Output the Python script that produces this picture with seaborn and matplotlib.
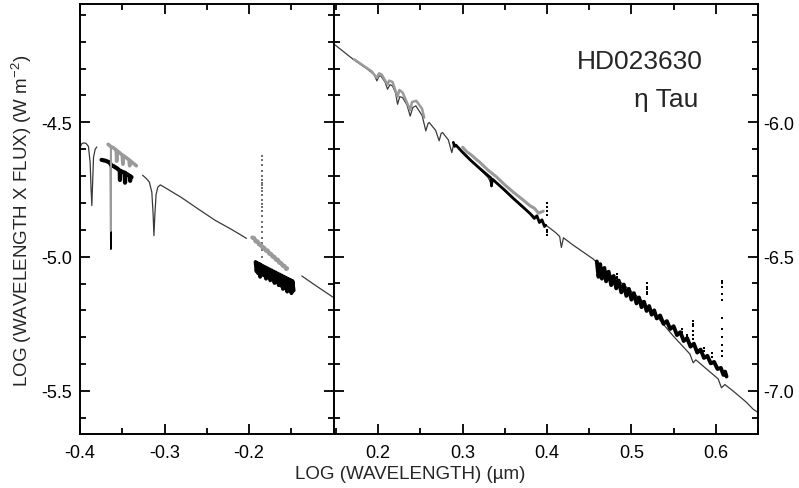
import numpy as np
import pandas as pd
import matplotlib
matplotlib.use("Agg")
import matplotlib.pyplot as plt
import seaborn as sns
from matplotlib.ticker import FixedLocator, MultipleLocator, FormatStrFormatter

# ------------------------------------------------------------------ data
# ---- left panel (optical), y on left axis
# model spectrum, three separate pieces
model_l1_x = [-0.400, -0.398, -0.396, -0.393, -0.390, -0.388, -0.387, -0.386, -0.385, -0.384, -0.382, -0.380]
model_l1_y = [-4.595, -4.580, -4.577, -4.578, -4.590, -4.650, -4.740, -4.810, -4.720, -4.630, -4.600, -4.592]
model_l2_x = [-0.326, -0.322, -0.318, -0.315, -0.3135, -0.3125, -0.3115, -0.310, -0.308, -0.305,
              -0.300, -0.280, -0.260, -0.240, -0.220, -0.203]
model_l2_y = [-4.697, -4.708, -4.722, -4.760, -4.840, -4.922, -4.850, -4.770, -4.742, -4.733,
              -4.742, -4.780, -4.823, -4.865, -4.900, -4.932]
model_l3_x = [-0.1375, -0.120, -0.101]
model_l3_y = [-5.072, -5.110, -5.150]

# grey observed spectrum (blue part)
grey_l1_x = [-0.3667, -0.3645, -0.3630, -0.3610, -0.3585, -0.3570, -0.3566, -0.3562,
             -0.3530, -0.3500, -0.3492, -0.3488, -0.3460, -0.3420, -0.3412, -0.3408, -0.3380, -0.3333]
grey_l1_y = [-4.582, -4.588, -4.592, -4.594, -4.600, -4.604, -4.645, -4.606,
             -4.614, -4.622, -4.656, -4.624, -4.630, -4.640, -4.662, -4.643, -4.650, -4.662]
grey_hg_x = [-0.3637, -0.3636, -0.3634]
grey_hg_y = [-4.590, -4.905, -4.600]
# black observed spectrum (blue part)
black_l1_x = [-0.3745, -0.3700, -0.3660, -0.3645, -0.3630, -0.3600, -0.3560, -0.3530,
              -0.3527, -0.3523, -0.3500, -0.3470, -0.3467, -0.3463, -0.3440, -0.3410, -0.3407, -0.3403, -0.3390]
black_l1_y = [-4.640, -4.643, -4.648, -4.652, -4.660, -4.664, -4.672, -4.680,
              -4.715, -4.682, -4.684, -4.688, -4.725, -4.690, -4.694, -4.700, -4.718, -4.702, -4.704]
black_hg_x = [-0.3638, -0.3635, -0.3632]
black_hg_y = [-4.655, -4.972, -4.660]

# grey observed spectrum (red part)
grey_l2_x = [-0.1961, -0.1940, -0.1920, -0.1900, -0.1880, -0.1860, -0.1840, -0.1820, -0.1800, -0.1780, -0.1760,
             -0.1740, -0.1720, -0.1700, -0.1680, -0.1660, -0.1640, -0.1620, -0.1600, -0.1580, -0.1560, -0.1549]
grey_l2_y = [-4.929, -4.931, -4.944, -4.943, -4.955, -4.956, -4.966, -4.967, -4.978, -4.977, -4.989,
             -4.990, -5.000, -5.001, -5.012, -5.011, -5.023, -5.024, -5.034, -5.035, -5.046, -5.044]
# H-alpha scatter of grey points
halpha_x = -0.1843
halpha_y = [-4.625, -4.640, -4.660, -4.680, -4.700, -4.715, -4.725, -4.735, -4.745, -4.755, -4.770,
            -4.790, -4.805, -4.815, -4.830, -4.850, -4.870, -4.890, -4.910, -4.930, -4.950, -4.975, -5.000]
# black observed spectrum (red part)
black_l2_x = [-0.1922, -0.1910, -0.1900, -0.1890, -0.1878, -0.1868, -0.1858, -0.1845, -0.1835, -0.1822,
              -0.1810, -0.1798, -0.1785, -0.1772, -0.1760, -0.1748, -0.1735, -0.1722, -0.1710, -0.1698,
              -0.1685, -0.1672, -0.1660, -0.1648, -0.1635, -0.1622, -0.1610, -0.1598, -0.1585, -0.1572,
              -0.1560, -0.1548, -0.1535, -0.1522, -0.1510, -0.1498, -0.1485, -0.1472]
black_l2_y = [-5.020, -5.055, -5.024, -5.062, -5.027, -5.075, -5.031, -5.064, -5.035, -5.070,
              -5.039, -5.082, -5.043, -5.076, -5.047, -5.088, -5.051, -5.084, -5.055, -5.098,
              -5.059, -5.094, -5.063, -5.106, -5.067, -5.108, -5.071, -5.120, -5.075, -5.116,
              -5.079, -5.130, -5.083, -5.124, -5.087, -5.136, -5.091, -5.126]

# ---- right panel (infrared), y on right axis
model_r_x = [0.1479, 0.1700, 0.1874, 0.1950, 0.1984, 0.2010, 0.2032, 0.2080, 0.2110, 0.2140, 0.2169,
             0.2205, 0.2229, 0.2255, 0.2288, 0.2340, 0.2379, 0.2410, 0.2446, 0.2520, 0.2564, 0.2590,
             0.2604, 0.2680, 0.2722, 0.2745, 0.2761, 0.2830, 0.2872, 0.2895, 0.2920, 0.3300, 0.3340,
             0.3360, 0.3700, 0.3996, 0.4100, 0.4150, 0.4170, 0.4195, 0.4300, 0.4548, 0.4700, 0.4820,
             0.4840, 0.4860, 0.5150, 0.5180, 0.5200, 0.5495, 0.5692, 0.5732, 0.5763, 0.6028, 0.6067,
             0.6107, 0.6205, 0.6363, 0.6440, 0.6500]
model_r_y = [-5.710, -5.765, -5.803, -5.822, -5.846, -5.828, -5.828, -5.850, -5.877, -5.860, -5.865,
             -5.890, -5.933, -5.905, -5.908, -5.935, -5.977, -5.945, -5.939, -5.975, -6.032, -6.005,
             -6.001, -6.030, -6.069, -6.042, -6.038, -6.065, -6.113, -6.080, -6.085, -6.205, -6.228,
             -6.215, -6.315, -6.385, -6.410, -6.425, -6.466, -6.430, -6.455, -6.509, -6.555, -6.585,
             -6.610, -6.592, -6.670, -6.700, -6.685, -6.795, -6.862, -6.895, -6.884, -6.955, -6.988,
             -6.976, -7.000, -7.042, -7.067, -7.080]

grey_r1_x = [0.1716, 0.1850, 0.1920, 0.1984, 0.2010, 0.2040, 0.2110, 0.2130, 0.2169, 0.2229, 0.2250,
             0.2290, 0.2379, 0.2400, 0.2450, 0.2520, 0.2544]
grey_r1_y = [-5.766, -5.795, -5.810, -5.835, -5.818, -5.822, -5.860, -5.845, -5.850, -5.905, -5.880,
             -5.890, -5.955, -5.925, -5.920, -5.950, -5.983]
grey_r2_x = [0.300, 0.305, 0.310, 0.315, 0.320, 0.330, 0.340, 0.350, 0.360, 0.370, 0.380, 0.385, 0.390, 0.3956]
grey_r2_y = [-6.093, -6.110, -6.121, -6.135, -6.148, -6.178, -6.203, -6.233, -6.260, -6.285, -6.311,
             -6.320, -6.338, -6.331]

black_r1_x = [0.289, 0.2905, 0.292, 0.295, 0.300, 0.310, 0.320, 0.330, 0.3335, 0.3342, 0.3348, 0.3355,
              0.340, 0.350, 0.360, 0.370, 0.380, 0.385, 0.388, 0.391, 0.394, 0.397, 0.3985]
black_r1_y = [-6.075, -6.090, -6.085, -6.095, -6.112, -6.143, -6.171, -6.198, -6.207, -6.237, -6.220,
              -6.212, -6.225, -6.253, -6.283, -6.311, -6.340, -6.358, -6.348, -6.373, -6.363, -6.388, -6.383]
edge_r1_x = 0.3996
edge_r1_y = [-6.300, -6.315, -6.330, -6.345, -6.400, -6.410, -6.418]

black_r2_x = [0.4590, 0.4610, 0.4630, 0.4650, 0.4680, 0.4700, 0.4730, 0.4760, 0.4790, 0.4820, 0.4850,
              0.4880, 0.4910, 0.4940, 0.4970, 0.5000, 0.5030, 0.5060, 0.5090, 0.5120, 0.5150, 0.5180,
              0.5210, 0.5240, 0.5270, 0.5300, 0.5340, 0.5380, 0.5420, 0.5460, 0.5500, 0.5540, 0.5580,
              0.5620, 0.5660, 0.5700, 0.5740, 0.5780, 0.5820, 0.5860, 0.5900, 0.5940, 0.5980, 0.6020,
              0.6060, 0.6090, 0.6110, 0.6127]
black_r2_y = [-6.518, -6.575, -6.528, -6.582, -6.542, -6.592, -6.556, -6.606, -6.572, -6.618, -6.589,
              -6.633, -6.604, -6.646, -6.620, -6.660, -6.636, -6.674, -6.652, -6.688, -6.668, -6.702,
              -6.684, -6.716, -6.700, -6.730, -6.719, -6.750, -6.740, -6.769, -6.759, -6.792, -6.781,
              -6.814, -6.803, -6.835, -6.824, -6.857, -6.846, -6.877, -6.869, -6.897, -6.892, -6.918,
              -6.914, -6.940, -6.928, -6.946]
# isolated outlying points (x, list of y)
spike_r_x = [0.4825, 0.5180, 0.5595, 0.5655, 0.5724, 0.5855, 0.5960, 0.6075]
spike_r_y = [[-6.565, -6.575, -6.584],
             [-6.600, -6.612, -6.622, -6.632, -6.640],
             [-6.770, -6.782],
             [-6.790, -6.800],
             [-6.739, -6.750, -6.760, -6.775, -6.790, -6.807],
             [-6.840, -6.850],
             [-6.860, -6.875],
             [-6.590, -6.600, -6.612, -6.640, -6.660, -6.730, -6.770, -6.800, -6.830, -6.850, -6.870]]

x_ticks_left = [-0.4, -0.3, -0.2]
x_ticks_right = [0.2, 0.3, 0.4, 0.5, 0.6]
y_ticks_left = [-4.5, -5.0, -5.5]
y_ticks_right = [-6.0, -6.5, -7.0]

# ------------------------------------------------------------------ style
sns.set_style("ticks")
plt.rcParams['font.family'] = ['Liberation Sans', 'DejaVu Sans']
plt.rcParams['mathtext.fontset'] = 'custom'
plt.rcParams['mathtext.rm'] = 'Liberation Sans'
plt.rcParams['mathtext.it'] = 'Liberation Sans:italic'
plt.rcParams['axes.unicode_minus'] = False

MODEL_C = "#3a3a3a"
GREY_C = "#9a9a9a"
BLACK_C = "#000000"

fig = plt.figure(figsize=(7.99, 4.89), dpi=100)
ax_l = fig.add_axes([80 / 799, 54 / 489, 253.5 / 799, 430 / 489])
ax_r = fig.add_axes([333.5 / 799, 54 / 489, 424.5 / 799, 430 / 489])


def line(ax, xs, ys, color, lw):
    df = pd.DataFrame({"x": xs, "y": ys})
    sns.lineplot(data=df, x="x", y="y", sort=False, estimator=None, color=color,
                 lw=lw, ax=ax, legend=False)


def dots(ax, x, ys, color, s):
    df = pd.DataFrame({"x": [x] * len(ys), "y": ys})
    sns.scatterplot(data=df, x="x", y="y", color=color, s=s, marker="s",
                    linewidth=0, ax=ax, legend=False)


# left panel
line(ax_l, model_l1_x, model_l1_y, MODEL_C, 0.9)
line(ax_l, model_l2_x, model_l2_y, MODEL_C, 0.9)
line(ax_l, model_l3_x, model_l3_y, MODEL_C, 0.9)
line(ax_l, black_hg_x, black_hg_y, BLACK_C, 1.2)
line(ax_l, black_l1_x, black_l1_y, BLACK_C, 3.0)
line(ax_l, grey_hg_x, grey_hg_y, GREY_C, 1.2)
line(ax_l, grey_l1_x, grey_l1_y, GREY_C, 2.6)
line(ax_l, grey_l2_x, grey_l2_y, GREY_C, 3.0)
dots(ax_l, halpha_x, halpha_y, "#707070", 3)
line(ax_l, black_l2_x, black_l2_y, BLACK_C, 2.8)

# right panel
line(ax_r, model_r_x, model_r_y, MODEL_C, 0.9)
line(ax_r, grey_r1_x, grey_r1_y, GREY_C, 1.8)
line(ax_r, grey_r2_x, grey_r2_y, GREY_C, 2.2)
line(ax_r, black_r1_x, black_r1_y, BLACK_C, 2.0)
dots(ax_r, edge_r1_x, edge_r1_y, BLACK_C, 3)
line(ax_r, black_r2_x, black_r2_y, BLACK_C, 2.8)
for sx, sy in zip(spike_r_x, spike_r_y):
    dots(ax_r, sx, sy, BLACK_C, 3)

# ------------------------------------------------------------------ axes
ax_l.set_xlim(-0.4, -0.1)
ax_l.set_ylim(-5.66, -4.06)
ax_r.set_xlim(0.147, 0.650)
ax_r.set_ylim(-7.16, -5.56)

for ax in (ax_l, ax_r):
    ax.set_xlabel("")
    ax.set_ylabel("")
    for sp in ax.spines.values():
        sp.set_visible(True)
        sp.set_linewidth(1.4)
        sp.set_color("black")
    ax.xaxis.set_minor_locator(MultipleLocator(0.05))
    ax.yaxis.set_minor_locator(MultipleLocator(0.1))
    ax.tick_params(which="both", direction="in", top=True, right=True,
                   left=True, bottom=True, width=1.3, colors="black", labelsize=13)
    ax.tick_params(which="major", length=7)
    ax.tick_params(which="minor", length=4)
    ax.xaxis.set_major_formatter(FormatStrFormatter("%.1f"))
    ax.yaxis.set_major_formatter(FormatStrFormatter("%.1f"))
    ax.set_facecolor("white")

ax_l.xaxis.set_major_locator(FixedLocator(x_ticks_left))
ax_l.yaxis.set_major_locator(FixedLocator(y_ticks_left))
ax_r.xaxis.set_major_locator(FixedLocator(x_ticks_right))
ax_r.yaxis.set_major_locator(FixedLocator(y_ticks_right))
ax_l.tick_params(axis="y", labelleft=True, labelright=False, pad=6)
ax_r.tick_params(axis="y", labelleft=False, labelright=True, pad=4)
ax_l.tick_params(axis="x", pad=7)
ax_r.tick_params(axis="x", pad=7)

ax_r.text(0.722, 0.868, "HD023630", transform=ax_r.transAxes,
          ha="center", va="center", fontsize=19)
ax_r.text(0.783, 0.78, "\u03b7 Tau", transform=ax_r.transAxes,
          ha="center", va="center", fontsize=19)

fig.text(410 / 799, 1 - 475 / 489, "LOG (WAVELENGTH) (\u00b5m)", ha="center", va="center", fontsize=13.5)
fig.text(22 / 799, 1 - 221 / 489, r"LOG (WAVELENGTH X FLUX) (W m$^{-2}$)", ha="center", va="center",
         rotation=90, fontsize=13.5)

fig.patch.set_facecolor("white")
fig.savefig("out.png", dpi=100, facecolor="white")
